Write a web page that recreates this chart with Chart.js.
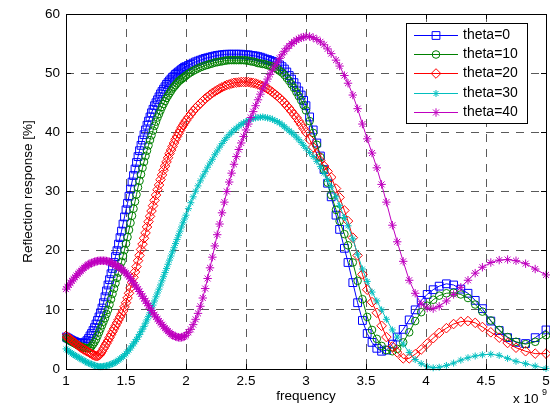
<!DOCTYPE html>
<html>
<head>
<meta charset="utf-8">
<script src="https://cdn.jsdelivr.net/npm/chart.js@4.4.0/dist/chart.umd.min.js"></script>
<style>
  html, body { margin: 0; padding: 0; background: #fff; }
  canvas { display: block; }
</style>
</head>
<body>
<canvas id="chart" width="553" height="414"></canvas>
<script>
// frequency samples (x 10^9), denser at the low end like the original sweep
const freq = [
  1, 1.0125, 1.025, 1.0375, 1.05, 1.0625, 1.075, 1.0875, 1.1, 1.1125,
  1.125, 1.1375, 1.15, 1.1625, 1.175, 1.1875, 1.2, 1.2125, 1.225, 1.2375,
  1.25, 1.2625, 1.275, 1.2875, 1.3, 1.3125, 1.325, 1.3375, 1.35, 1.3625,
  1.375, 1.3875, 1.4, 1.4125, 1.425, 1.4375, 1.45, 1.4625, 1.475, 1.4875,
  1.5, 1.5125, 1.525, 1.5375, 1.55, 1.5625, 1.575, 1.5875, 1.6, 1.6125,
  1.625, 1.6375, 1.65, 1.6625, 1.675, 1.6875, 1.7, 1.7125, 1.725, 1.7375,
  1.75, 1.7625, 1.775, 1.7875, 1.8, 1.8125, 1.825, 1.8375, 1.85, 1.8625,
  1.875, 1.8875, 1.9, 1.9125, 1.925, 1.9375, 1.95, 1.9625, 1.975, 1.9875, 2,
  2.02, 2.04, 2.06, 2.08, 2.1, 2.12, 2.14, 2.16, 2.18, 2.2,
  2.22, 2.24, 2.26, 2.28, 2.3, 2.32, 2.34, 2.36, 2.38, 2.4,
  2.42, 2.44, 2.46, 2.48, 2.5, 2.52, 2.54, 2.56, 2.58, 2.6,
  2.62, 2.64, 2.66, 2.68, 2.7, 2.72, 2.74, 2.76, 2.78, 2.8,
  2.82, 2.84, 2.86, 2.88, 2.9, 2.92, 2.94, 2.96, 2.98, 3,
  3.03, 3.06, 3.09, 3.12, 3.15, 3.18, 3.21, 3.25, 3.28, 3.32,
  3.35, 3.39, 3.43, 3.47, 3.51, 3.55, 3.59, 3.63, 3.67, 3.72,
  3.76, 3.81, 3.86, 3.91, 3.96, 4.01, 4.06, 4.11, 4.17, 4.23,
  4.29, 4.35, 4.41, 4.47, 4.54, 4.61, 4.68, 4.75, 4.83, 4.91, 5
];

const theta0 = [
  5.4, 5.25, 5.1, 4.95, 4.8, 4.7, 4.6, 4.5, 4.4, 4.35,
  4.3, 4.33, 4.4, 4.55, 4.8, 5.15, 5.6, 6.0, 6.5, 7.0,
  7.6, 8.2, 8.8, 9.5, 10.3, 11.2, 12.2, 13.2, 14.2, 15.1,
  16.1, 17.0, 18.0, 19.0, 20.0, 21.1, 22.2, 23.3, 24.5, 25.7,
  26.9, 28.0, 29.2, 30.4, 31.6, 32.7, 33.8, 34.9, 35.9, 36.9,
  37.8, 38.7, 39.6, 40.4, 41.2, 41.9, 42.6, 43.3, 43.9, 44.5,
  45.0, 45.5, 46.0, 46.5, 46.9, 47.3, 47.7, 48.1, 48.4, 48.7,
  49.0, 49.3, 49.5, 49.8, 50.0, 50.2, 50.4, 50.6, 50.8, 51.0, 51.1,
  51.3, 51.5, 51.7, 51.9, 52.05, 52.2, 52.35, 52.5, 52.6, 52.7,
  52.8, 52.9, 53.0, 53.05, 53.1, 53.15, 53.2, 53.2, 53.2, 53.2,
  53.2, 53.2, 53.2, 53.1, 53.1, 53.1, 53.0, 52.95, 52.9, 52.8,
  52.7, 52.55, 52.4, 52.3, 52.15, 52.0, 51.85, 51.7, 51.4, 51.1,
  50.7, 50.2, 49.6, 49.0, 48.4, 47.7, 47.0, 46.3, 45.4, 44.5,
  42.6, 40.4, 38.2, 36.0, 33.7, 31.4, 29.1, 26.0, 23.6, 20.4,
  18.0, 14.6, 11.2, 8.2, 6.0, 4.5, 3.5, 3.0, 3.2, 4.2,
  5.4, 6.7, 8.3, 10.0, 11.6, 12.6, 13.4, 14.0, 14.4, 14.2,
  13.5, 12.8, 11.6, 10.2, 8.1, 6.5, 5.3, 4.5, 4.3, 5.3, 6.6
];

const theta10 = [
  5.2, 5.05, 4.9, 4.75, 4.6, 4.45, 4.3, 4.15, 4.0, 3.9,
  3.8, 3.7, 3.6, 3.55, 3.5, 3.5, 3.6, 3.85, 4.2, 4.55,
  5.0, 5.6, 6.2, 6.8, 7.4, 8.0, 8.6, 9.3, 10.0, 10.9,
  11.8, 12.7, 13.6, 14.5, 15.4, 16.3, 17.2, 18.1, 19.1, 20.1,
  21.2, 22.3, 23.5, 24.7, 25.9, 27.1, 28.3, 29.5, 30.7, 31.8,
  32.9, 34.0, 35.0, 36.0, 36.9, 37.8, 38.7, 39.5, 40.3, 41.1,
  41.8, 42.5, 43.1, 43.7, 44.3, 44.8, 45.3, 45.8, 46.2, 46.6,
  47.0, 47.4, 47.7, 48.0, 48.3, 48.6, 48.8, 49.0, 49.2, 49.4, 49.6,
  49.9, 50.15, 50.4, 50.6, 50.8, 51.0, 51.15, 51.3, 51.4, 51.55,
  51.65, 51.8, 51.85, 51.95, 52.0, 52.1, 52.15, 52.2, 52.2, 52.2,
  52.2, 52.2, 52.2, 52.2, 52.15, 52.1, 52.0, 51.95, 51.85, 51.7,
  51.65, 51.55, 51.5, 51.35, 51.25, 51.1, 50.9, 50.7, 50.4, 50.1,
  49.7, 49.2, 48.7, 48.1, 47.5, 46.8, 46.1, 45.4, 44.6, 43.7,
  41.9, 39.9, 37.9, 35.8, 33.7, 31.5, 29.4, 26.9, 25.0, 22.8,
  20.9, 18.0, 14.9, 11.8, 8.8, 6.6, 5.1, 3.9, 3.2, 3.0,
  3.4, 4.5, 6.2, 8.1, 9.6, 10.7, 11.7, 12.4, 12.8, 12.9,
  12.6, 12.0, 10.9, 9.7, 8.2, 6.6, 5.4, 4.6, 4.2, 4.6, 5.7
];

const theta20 = [
  5.6, 5.4, 5.2, 5.0, 4.8, 4.6, 4.4, 4.2, 4.0, 3.8,
  3.6, 3.45, 3.3, 3.15, 3.0, 2.85, 2.7, 2.55, 2.4, 2.3,
  2.2, 2.2, 2.3, 2.6, 3.0, 3.45, 3.9, 4.35, 4.8, 5.3,
  5.8, 6.3, 6.8, 7.3, 7.8, 8.3, 8.8, 9.3, 9.8, 10.5,
  11.2, 12.0, 12.8, 13.7, 14.6, 15.5, 16.4, 17.3, 18.3, 19.2,
  20.2, 21.1, 22.1, 23.0, 24.0, 24.9, 25.8, 26.7, 27.6, 28.5,
  29.4, 30.3, 31.1, 32.0, 32.8, 33.6, 34.3, 35.0, 35.7, 36.4,
  37.0, 37.6, 38.2, 38.8, 39.3, 39.8, 40.3, 40.8, 41.2, 41.6, 42.0,
  42.55, 43.1, 43.6, 44.1, 44.5, 44.9, 45.3, 45.7, 46.0, 46.35,
  46.65, 46.9, 47.15, 47.4, 47.6, 47.8, 48.0, 48.1, 48.25, 48.35,
  48.4, 48.45, 48.5, 48.5, 48.5, 48.5, 48.4, 48.35, 48.25, 48.1,
  47.95, 47.8, 47.6, 47.35, 47.1, 46.8, 46.45, 46.15, 45.8, 45.4,
  45.0, 44.5, 44.05, 43.55, 43.0, 42.5, 41.9, 41.3, 40.65, 40.0,
  38.8, 37.5, 36.3, 35.2, 34.3, 33.4, 32.4, 30.5, 29.0, 26.8,
  25.0, 22.2, 19.2, 16.0, 13.4, 11.3, 9.5, 7.3, 5.4, 3.8,
  2.8, 1.8, 1.8, 2.5, 3.3, 4.3, 5.2, 6.1, 6.9, 7.6,
  8.0, 8.1, 7.8, 7.1, 6.2, 5.3, 4.4, 3.6, 3.0, 2.6, 2.6
];

const theta30 = [
  3.4, 3.2, 3.0, 2.8, 2.6, 2.45, 2.3, 2.15, 2.0, 1.85,
  1.7, 1.55, 1.4, 1.25, 1.1, 1.0, 0.9, 0.8, 0.7, 0.6,
  0.5, 0.45, 0.4, 0.4, 0.4, 0.45, 0.5, 0.55, 0.6, 0.7,
  0.8, 0.9, 1.0, 1.15, 1.3, 1.5, 1.7, 1.9, 2.1, 2.35,
  2.6, 2.9, 3.2, 3.55, 3.9, 4.25, 4.6, 5.0, 5.4, 5.85,
  6.3, 6.75, 7.2, 7.75, 8.3, 8.9, 9.5, 10.15, 10.8, 11.5,
  12.2, 12.85, 13.5, 14.2, 14.9, 15.6, 16.3, 17.0, 17.7, 18.4,
  19.1, 19.8, 20.5, 21.2, 21.9, 22.6, 23.3, 24.0, 24.7, 25.35, 26.0,
  27.1, 28.1, 29.1, 30.05, 30.95, 31.8, 32.6, 33.35, 34.1, 34.8,
  35.45, 36.2, 36.85, 37.5, 38.1, 38.65, 39.15, 39.6, 40.0, 40.4,
  40.7, 41.05, 41.35, 41.6, 41.8, 42.0, 42.2, 42.35, 42.45, 42.5,
  42.55, 42.6, 42.5, 42.45, 42.35, 42.2, 42.0, 41.8, 41.6, 41.3,
  40.95, 40.6, 40.25, 39.95, 39.6, 39.2, 38.75, 38.3, 37.8, 37.3,
  36.6, 35.9, 35.1, 34.2, 33.1, 32.0, 30.8, 29.1, 27.6, 25.6,
  24.2, 22.0, 19.4, 16.9, 14.8, 13.0, 11.5, 10.0, 8.4, 6.6,
  5.4, 4.2, 2.8, 1.6, 0.9, 0.4, 0.2, 0.3, 0.6, 1.0,
  1.5, 1.9, 2.2, 2.4, 2.5, 2.3, 1.8, 1.3, 0.9, 0.5, 0.1
];

const theta40 = [
  13.5, 13.85, 14.2, 14.55, 14.9, 15.2, 15.5, 15.8, 16.1, 16.35,
  16.6, 16.85, 17.1, 17.3, 17.5, 17.65, 17.8, 17.9, 18.0, 18.1,
  18.2, 18.25, 18.3, 18.3, 18.3, 18.3, 18.3, 18.25, 18.2, 18.1,
  18.0, 17.85, 17.7, 17.55, 17.4, 17.25, 17.1, 16.9, 16.7, 16.45,
  16.2, 15.9, 15.6, 15.25, 14.9, 14.55, 14.2, 13.85, 13.5, 13.1,
  12.7, 12.3, 11.9, 11.5, 11.1, 10.7, 10.3, 9.9, 9.5, 9.15,
  8.8, 8.45, 8.1, 7.8, 7.5, 7.2, 6.9, 6.65, 6.4, 6.15,
  5.9, 5.75, 5.6, 5.5, 5.4, 5.35, 5.3, 5.35, 5.4, 5.55, 5.7,
  6.2, 6.7, 7.5, 8.4, 9.4, 10.6, 12.0, 13.6, 15.3, 17.1,
  18.9, 20.8, 22.7, 24.5, 26.4, 28.2, 30.0, 31.6, 33.1, 34.6,
  35.9, 37.1, 38.2, 39.3, 40.4, 41.4, 42.5, 43.5, 44.5, 45.5,
  46.45, 47.35, 48.2, 49.0, 49.8, 50.5, 51.2, 51.85, 52.5, 53.1,
  53.7, 54.2, 54.6, 55.0, 55.3, 55.6, 55.8, 56.0, 56.1, 56.2,
  56.2, 56.0, 55.7, 55.3, 54.8, 54.1, 53.3, 52.2, 51.2, 49.6,
  48.3, 46.3, 44.0, 41.4, 38.9, 36.5, 34.0, 31.2, 28.2, 24.3,
  21.5, 18.2, 15.0, 12.8, 11.0, 10.3, 10.2, 10.6, 11.5, 12.6,
  13.8, 15.0, 16.2, 17.2, 18.0, 18.4, 18.5, 18.3, 17.8, 16.9, 15.9
];

const seriesNames = ['theta=0', 'theta=10', 'theta=20', 'theta=30', 'theta=40'];
const seriesValues = [theta0, theta10, theta20, theta30, theta40];
const seriesColors = ['#0000ff', '#008000', '#ff0000', '#00bfbf', '#bf00bf'];
const seriesMarkers = ['rect', 'circle', 'rectRot', 'star', 'star'];
const markerSizes = [5.5, 3.8, 4.8, 3.5, 4.2];

Chart.defaults.font.family = '"Liberation Sans", Arial, sans-serif';
Chart.defaults.font.size = 13.5;
Chart.defaults.color = '#000';

const datasets = seriesNames.map((name, i) => ({
  label: name,
  data: freq.map((f, k) => ({ x: f, y: seriesValues[i][k] })),
  borderColor: seriesColors[i],
  borderWidth: 1,
  backgroundColor: 'rgba(0,0,0,0)',
  pointStyle: seriesMarkers[i],
  pointRadius: markerSizes[i],
  pointBorderColor: seriesColors[i],
  pointBackgroundColor: 'rgba(0,0,0,0)',
  pointBorderWidth: 1,
  tension: 0,
  order: seriesNames.length - 1 - i,   // later curves on top, as in matlab
  clip: 4
}));

const noPad = s => { s.paddingTop = 0; s.paddingBottom = 0; s.paddingLeft = 0; s.paddingRight = 0; };

// box with inward ticks, drawn over the curves
const axesBox = {
  id: 'axesBox',
  afterDatasetsDraw(chart) {
    const { ctx, chartArea: a, scales: { x, y } } = chart;
    const al = v => Math.round(v - 0.5) + 0.5;
    ctx.save();
    ctx.strokeStyle = '#000';
    ctx.lineWidth = 1;
    ctx.beginPath();
    x.ticks.forEach(t => {
      const px = al(x.getPixelForValue(t.value));
      ctx.moveTo(px, a.bottom); ctx.lineTo(px, a.bottom - 5);
      ctx.moveTo(px, a.top); ctx.lineTo(px, a.top + 5);
    });
    y.ticks.forEach(t => {
      const py = al(y.getPixelForValue(t.value));
      ctx.moveTo(a.left, py); ctx.lineTo(a.left + 5, py);
      ctx.moveTo(a.right, py); ctx.lineTo(a.right - 5, py);
    });
    ctx.stroke();
    ctx.strokeRect(al(a.left), al(a.top), al(a.right) - al(a.left), al(a.bottom) - al(a.top));
    ctx.restore();
  }
};

// matlab style legend box plus the x 10^9 exponent
const boxLegend = {
  id: 'boxLegend',
  afterDraw(chart) {
    const { ctx } = chart;
    const left = 406, top = 23, w = 121, rowH = 19.4;
    const h = rowH * seriesNames.length + 3;
    ctx.save();
    ctx.fillStyle = '#fff';
    ctx.fillRect(left + 0.5, top + 0.5, w, h);
    ctx.strokeStyle = '#000';
    ctx.lineWidth = 1;
    ctx.strokeRect(left + 0.5, top + 0.5, w, h);
    chart.data.datasets.forEach((ds, i) => {
      const cy = Math.round(top + 11.5 + i * rowH) + 0.5;
      ctx.strokeStyle = ds.borderColor;
      ctx.lineWidth = 1;
      ctx.beginPath();
      ctx.moveTo(414, cy); ctx.lineTo(458, cy);
      ctx.stroke();
      ctx.fillStyle = 'rgba(0,0,0,0)';
      Chart.helpers.drawPoint(ctx, {
        pointStyle: ds.pointStyle, radius: ds.pointRadius, borderWidth: 1, rotation: 0
      }, 436, cy);
      ctx.fillStyle = '#000';
      ctx.font = '14px "Liberation Sans", Arial, sans-serif';
      ctx.textAlign = 'left';
      ctx.textBaseline = 'middle';
      ctx.fillText(ds.label, 463, cy);
    });
    ctx.fillStyle = '#000';
    ctx.textBaseline = 'alphabetic';
    ctx.font = '13.5px "Liberation Sans", Arial, sans-serif';
    ctx.fillText('x 10', 513, 403);
    ctx.font = '9px "Liberation Sans", Arial, sans-serif';
    ctx.fillText('9', 542, 395);
    ctx.restore();
  }
};

new Chart(document.getElementById('chart'), {
  type: 'line',
  data: { datasets },
  options: {
    responsive: false,
    animation: false,
    devicePixelRatio: 1,
    layout: { padding: { top: 14, right: 7, left: 0, bottom: 0 } },
    plugins: { legend: { display: false }, tooltip: { enabled: false } },
    scales: {
      x: {
        type: 'linear',
        min: 1,
        max: 5,
        ticks: { stepSize: 0.5, padding: 4, maxRotation: 0, callback: v => String(v) },
        grid: { color: '#5a5a5a', lineWidth: 1, drawTicks: false },
        border: { display: false, dash: [8, 7] },
        title: { display: true, text: 'frequency', padding: { top: 0, bottom: 10 } },
        afterFit: s => { s.height = 45; noPad(s); }
      },
      y: {
        type: 'linear',
        min: 0,
        max: 60,
        ticks: { stepSize: 10, padding: 6 },
        grid: { color: '#5a5a5a', lineWidth: 1, drawTicks: false },
        border: { display: false, dash: [8, 7] },
        title: { display: true, text: 'Reflection response [%]', padding: { top: 20, bottom: 0 } },
        afterFit: s => { s.width = 66; noPad(s); }
      }
    }
  },
  plugins: [axesBox, boxLegend]
});
</script>
</body>
</html>
